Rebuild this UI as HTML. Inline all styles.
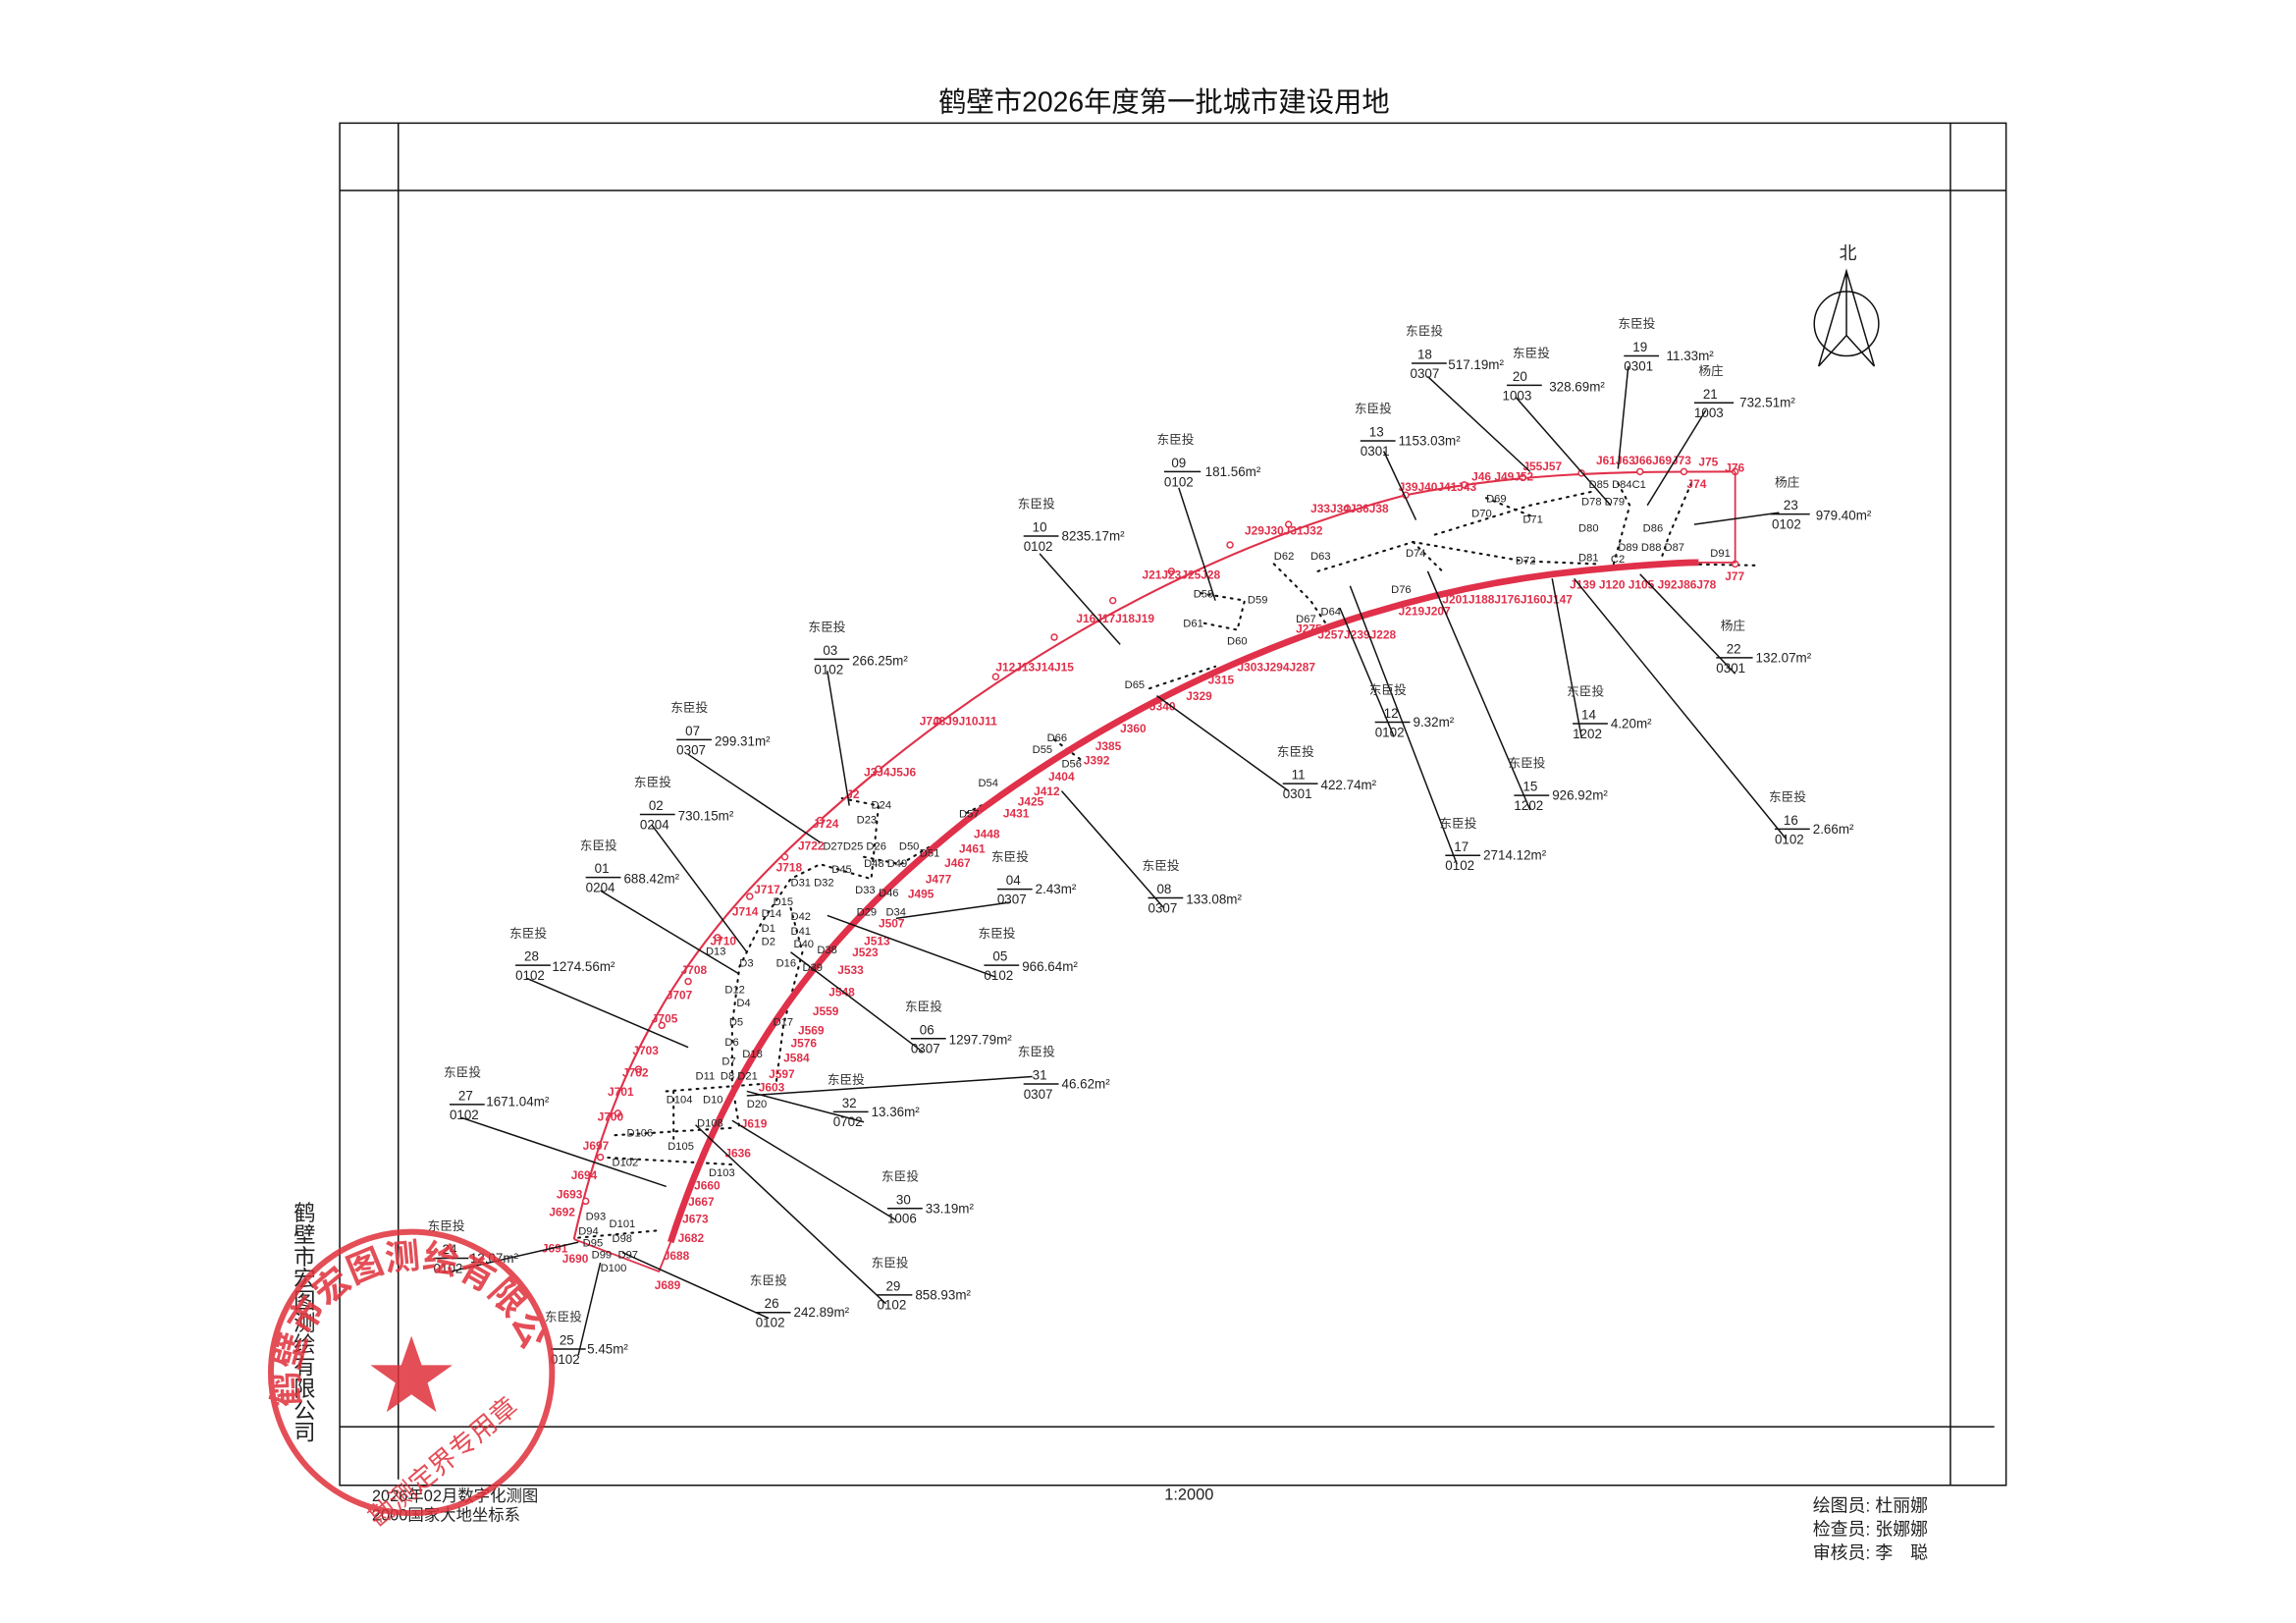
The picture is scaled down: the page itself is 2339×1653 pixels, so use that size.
<!DOCTYPE html>
<html><head><meta charset="utf-8"><style>
html,body{margin:0;padding:0;background:#fff;}
svg{display:block;}
text{font-family:"Liberation Sans","Noto Sans CJK SC",sans-serif;}
.k{fill:#222;font-size:9px;}
.h{fill:#333;font-size:8.5px;}
.r{fill:#e0304a;font-size:8px;font-weight:bold;}
.d{fill:#222;font-size:7.5px;}
.ln{stroke:#111;stroke-width:1;fill:none;}
.dot{stroke:#111;stroke-width:1.4;stroke-dasharray:1.2 4;fill:none;stroke-linecap:round;}
</style></head><body>
<svg width="2339" height="1653" viewBox="0 0 1568 1108" preserveAspectRatio="none" xmlns="http://www.w3.org/2000/svg">
<rect width="1568" height="1108" fill="#fff"/>
<text x="795" y="76" text-anchor="middle" style="font-size:19px;fill:#111">鹤壁市2026年度第一批城市建设用地</text>
<path d="M232,84 H1370 V1014 H232 Z" class="ln" stroke-width="1.3"/>
<path d="M272,84 V1010 M232,130 H1370 M1332,84 V1014 M232,974 H1362" class="ln"/>
<text x="1262" y="177" text-anchor="middle" style="font-size:12px;fill:#222">北</text>
<circle cx="1261" cy="221" r="22" class="ln" stroke-width="1.5"/>
<path d="M1261,185 V229 M1261,185 L1242,250 L1261,229 L1280,250 Z" class="ln" stroke-width="1.3"/>
<path class="dot" d="M1105,330 L1113,345 L1102,385 M1155,330 L1140,365 L1135,380 M980,365 L1045,345 L1090,335 M900,390 L965,370 L1040,383 L1090,385 M965,370 L985,390 M1145,385 L1200,386 M1015,340 L1045,352"/>
<path class="dot" d="M870,385 L895,410 L905,425 M820,405 L850,410 L845,430 L820,425 M785,470 L830,455 M720,505 L740,520 M660,555 L680,545"/>
<path class="dot" d="M575,545 L600,550 L595,600 L560,590 L540,600 L520,630 L505,660 L500,700 L500,740 L505,770 M540,620 L548,650 L535,700 L530,740 M590,585 L615,590 L640,575 M420,775 L500,770 M460,745 L460,780 M455,745 L520,740 M410,790 L500,795 M395,845 L450,840"/>
<path d="M392,846 C420,720 470,640 560,560 C660,470 800,380 960,338 C1040,322 1110,322 1185,322" fill="none" stroke="#e0304a" stroke-width="1.4"/>
<g fill="#fff" stroke="#e0304a" stroke-width="1">
<circle cx="400" cy="820" r="2"/><circle cx="410" cy="790" r="2"/><circle cx="422" cy="760" r="2"/><circle cx="436" cy="730" r="2"/><circle cx="452" cy="700" r="2"/><circle cx="470" cy="670" r="2"/><circle cx="490" cy="640" r="2"/><circle cx="512" cy="612" r="2"/><circle cx="536" cy="585" r="2"/><circle cx="560" cy="560" r="2"/><circle cx="600" cy="525" r="2"/><circle cx="640" cy="492" r="2"/><circle cx="680" cy="462" r="2"/><circle cx="720" cy="435" r="2"/><circle cx="760" cy="410" r="2"/><circle cx="800" cy="390" r="2"/><circle cx="840" cy="372" r="2"/><circle cx="880" cy="358" r="2"/><circle cx="920" cy="347" r="2"/><circle cx="960" cy="338" r="2"/><circle cx="1000" cy="331" r="2"/><circle cx="1040" cy="326" r="2"/><circle cx="1080" cy="323" r="2"/><circle cx="1120" cy="322" r="2"/><circle cx="1150" cy="322" r="2"/><circle cx="1185" cy="322" r="2"/><circle cx="1185" cy="385" r="2"/>
</g>
<path d="M458,848 C500,720 560,640 660,560 C780,470 920,410 1060,392 C1110,386 1150,384 1160,384" fill="none" stroke="#e0304a" stroke-width="4.5"/>
<path d="M1160,384 H1185 V322 M392,846 L450,868 L458,848" fill="none" stroke="#e0304a" stroke-width="1.2"/>
<g class="r">
<text x="1178" y="322">J76</text><text x="1160" y="318">J75</text><text x="1115" y="317">J66J69J73</text><text x="1090" y="317">J61J63</text><text x="1152" y="333">J74</text><text x="1178" y="396">J77</text>
<text x="1040" y="321">J55J57</text><text x="1005" y="328">J46 J49J52</text><text x="955" y="335">J39J40J41J43</text><text x="895" y="350">J33J34J36J38</text><text x="850" y="365">J29J30J31J32</text><text x="780" y="395">J21J23J25J28</text><text x="735" y="425">J16J17J18J19</text><text x="680" y="458">J12J13J14J15</text><text x="628" y="495">J7J8J9J10J11</text><text x="590" y="530">J3J4J5J6</text><text x="578" y="545">J2</text>
<text x="555" y="565">J724</text><text x="545" y="580">J722</text><text x="530" y="595">J718</text><text x="515" y="610">J717</text><text x="500" y="625">J714</text><text x="485" y="645">J710</text><text x="465" y="665">J708</text><text x="455" y="682">J707</text><text x="445" y="698">J705</text><text x="432" y="720">J703</text><text x="425" y="735">J702</text><text x="415" y="748">J701</text><text x="408" y="765">J700</text><text x="398" y="785">J697</text><text x="390" y="805">J694</text><text x="380" y="818">J693</text><text x="375" y="830">J692</text><text x="370" y="855">J691</text><text x="384" y="862">J690</text><text x="447" y="880">J689</text><text x="453" y="860">J688</text><text x="463" y="848">J682</text><text x="466" y="835">J673</text><text x="470" y="823">J667</text><text x="474" y="812">J660</text><text x="495" y="790">J636</text><text x="506" y="770">J619</text><text x="518" y="745">J603</text><text x="525" y="736">J597</text><text x="535" y="725">J584</text><text x="540" y="715">J576</text><text x="545" y="706">J569</text><text x="555" y="693">J559</text><text x="566" y="680">J548</text><text x="572" y="665">J533</text><text x="582" y="653">J523</text><text x="590" y="645">J513</text><text x="600" y="633">J507</text><text x="620" y="613">J495</text><text x="632" y="603">J477</text><text x="645" y="592">J467</text><text x="655" y="582">J461</text><text x="665" y="572">J448</text><text x="685" y="558">J431</text><text x="695" y="550">J425</text><text x="706" y="543">J412</text><text x="716" y="533">J404</text><text x="740" y="522">J392</text><text x="748" y="512">J385</text><text x="765" y="500">J360</text><text x="785" y="485">J340</text><text x="810" y="478">J329</text><text x="825" y="467">J315</text><text x="845" y="458">J303J294J287</text><text x="885" y="432">J275</text><text x="900" y="436">J257J239J228</text><text x="955" y="420">J219J207</text><text x="985" y="412">J201J188J176J160J147</text><text x="1072" y="402">J139 J120 J105 J92J86J78</text>
</g>
<g class="d">
<text x="1085" y="333">D85 D84C1</text><text x="1080" y="345">D78 D79</text><text x="1015" y="343">D69</text><text x="1005" y="353">D70</text><text x="1040" y="357">D71</text><text x="1078" y="363">D80</text><text x="1122" y="363">D86</text><text x="1105" y="376">D89 D88 D87</text><text x="1168" y="380">D91</text><text x="1078" y="383">D81</text><text x="1100" y="384">C2</text><text x="1035" y="385">D72</text><text x="960" y="380">D74</text><text x="950" y="405">D76</text><text x="870" y="382">D62</text><text x="895" y="382">D63</text><text x="815" y="408">D58</text><text x="852" y="412">D59</text><text x="808" y="428">D61</text><text x="838" y="440">D60</text><text x="902" y="420">D64</text><text x="885" y="425">D67</text><text x="768" y="470">D65</text><text x="715" y="506">D66</text><text x="705" y="514">D55</text><text x="725" y="524">D56</text><text x="668" y="537">D54</text><text x="655" y="558">D57</text><text x="595" y="552">D24</text><text x="585" y="562">D23</text><text x="562" y="580">D27D25 D26</text><text x="614" y="580">D50</text><text x="628" y="585">D51</text><text x="590" y="592">D48 D49</text><text x="568" y="596">D45</text><text x="540" y="605">D31 D32</text><text x="584" y="610">D33</text><text x="600" y="612">D46</text><text x="585" y="625">D29</text><text x="605" y="625">D34</text><text x="528" y="618">D15</text><text x="520" y="626">D14</text><text x="540" y="628">D42</text><text x="520" y="636">D1</text><text x="540" y="638">D41</text><text x="520" y="645">D2</text><text x="542" y="647">D40</text><text x="558" y="651">D38</text><text x="482" y="652">D13</text><text x="505" y="660">D3</text><text x="530" y="660">D16</text><text x="548" y="663">D39</text><text x="495" y="678">D12</text><text x="503" y="687">D4</text><text x="498" y="700">D5</text><text x="528" y="700">D17</text><text x="495" y="714">D6</text><text x="507" y="722">D18</text><text x="493" y="727">D7</text><text x="475" y="737">D11</text><text x="492" y="737">D8 D21</text><text x="455" y="753">D104</text><text x="480" y="753">D10</text><text x="510" y="756">D20</text><text x="476" y="769">D108</text><text x="428" y="776">D106</text><text x="456" y="785">D105</text><text x="418" y="796">D102</text><text x="484" y="803">D103</text><text x="400" y="833">D93</text><text x="416" y="838">D101</text><text x="395" y="843">D94</text><text x="398" y="851">D95</text><text x="418" y="848">D98</text><text x="404" y="859">D99</text><text x="422" y="859">D97</text><text x="410" y="868">D100</text>
</g>
<g class="ln">
<path d="M975,257 L1045,322 M1035,271 L1100,345 M1112,250 L1105,320 M1165,280 L1125,345 M1215,350 L1157,358 M945,308 L967,355 M805,333 L830,410 M710,378 L765,440 M565,458 L580,550 M470,515 L560,575 M445,563 L510,650 M410,608 L505,665 M360,668 L470,715 M315,763 L455,810 M308,868 L395,848 M395,925 L410,862 M525,900 L425,855 M605,890 L475,768 M612,833 L500,765 M590,766 L510,745 M705,735 L510,748 M630,718 L540,650 M680,667 L565,625 M690,616 L612,627 M795,620 L725,540 M880,540 L790,475 M952,503 L915,415 M995,590 L922,400 M1045,553 L975,390 M1080,503 L1060,395 M1220,573 L1075,395 M1185,460 L1120,392"/>
</g>
<g class="k">
<g transform="translate(960,229)"><text class="h" x="0" y="0">东臣投</text><text x="8" y="16">18</text><path d="M4,19 H28" class="ln"/><text x="3" y="29">0307</text><text x="29" y="23">517.19m²</text></g>
<g transform="translate(1025,244)"><text class="h" x="8" y="0">东臣投</text><text x="8" y="16">20</text><path d="M4,19 H28" class="ln"/><text x="1" y="29">1003</text><text x="33" y="23">328.69m²</text></g>
<g transform="translate(1105,224)"><text class="h" x="0" y="0">东臣投</text><text x="10" y="16">19</text><path d="M4,19 H28" class="ln"/><text x="4" y="29">0301</text><text x="33" y="22">11.33m²</text></g>
<g transform="translate(1160,256)"><text class="h" x="0" y="0">杨庄</text><text x="3" y="16">21</text><path d="M-3,19 H24" class="ln"/><text x="-3" y="29">1003</text><text x="28" y="22">732.51m²</text></g>
<g transform="translate(1212,332)"><text class="h" x="0" y="0">杨庄</text><text x="6" y="16">23</text><path d="M-3,19 H24" class="ln"/><text x="-2" y="29">0102</text><text x="28" y="23">979.40m²</text></g>
<g transform="translate(925,282)"><text class="h" x="0" y="0">东臣投</text><text x="10" y="16">13</text><path d="M4,19 H28" class="ln"/><text x="4" y="29">0301</text><text x="30" y="22">1153.03m²</text></g>
<g transform="translate(790,303)"><text class="h" x="0" y="0">东臣投</text><text x="10" y="16">09</text><path d="M5,19 H30" class="ln"/><text x="5" y="29">0102</text><text x="33" y="22">181.56m²</text></g>
<g transform="translate(695,347)"><text class="h" x="0" y="0">东臣投</text><text x="10" y="16">10</text><path d="M4,19 H28" class="ln"/><text x="4" y="29">0102</text><text x="30" y="22">8235.17m²</text></g>
<g transform="translate(552,431)"><text class="h" x="0" y="0">东臣投</text><text x="10" y="16">03</text><path d="M4,19 H28" class="ln"/><text x="4" y="29">0102</text><text x="30" y="23">266.25m²</text></g>
<g transform="translate(458,486)"><text class="h" x="0" y="0">东臣投</text><text x="10" y="16">07</text><path d="M4,19 H28" class="ln"/><text x="4" y="29">0307</text><text x="30" y="23">299.31m²</text></g>
<g transform="translate(433,537)"><text class="h" x="0" y="0">东臣投</text><text x="10" y="16">02</text><path d="M4,19 H28" class="ln"/><text x="4" y="29">0204</text><text x="30" y="23">730.15m²</text></g>
<g transform="translate(396,580)"><text class="h" x="0" y="0">东臣投</text><text x="10" y="16">01</text><path d="M4,19 H28" class="ln"/><text x="4" y="29">0204</text><text x="30" y="23">688.42m²</text></g>
<g transform="translate(348,640)"><text class="h" x="0" y="0">东臣投</text><text x="10" y="16">28</text><path d="M4,19 H28" class="ln"/><text x="4" y="29">0102</text><text x="29" y="23">1274.56m²</text></g>
<g transform="translate(303,735)"><text class="h" x="0" y="0">东臣投</text><text x="10" y="16">27</text><path d="M4,19 H28" class="ln"/><text x="4" y="29">0102</text><text x="29" y="20">1671.04m²</text></g>
<g transform="translate(292,840)"><text class="h" x="0" y="0">东臣投</text><text x="10" y="16">24</text><path d="M4,19 H28" class="ln"/><text x="4" y="29">0102</text><text x="29" y="22">12.07m²</text></g>
<g transform="translate(372,902)"><text class="h" x="0" y="0">东臣投</text><text x="10" y="16">25</text><path d="M4,19 H28" class="ln"/><text x="4" y="29">0102</text><text x="29" y="22">5.45m²</text></g>
<g transform="translate(512,877)"><text class="h" x="0" y="0">东臣投</text><text x="10" y="16">26</text><path d="M4,19 H28" class="ln"/><text x="4" y="29">0102</text><text x="30" y="22">242.89m²</text></g>
<g transform="translate(595,865)"><text class="h" x="0" y="0">东臣投</text><text x="10" y="16">29</text><path d="M4,19 H28" class="ln"/><text x="4" y="29">0102</text><text x="30" y="22">858.93m²</text></g>
<g transform="translate(602,806)"><text class="h" x="0" y="0">东臣投</text><text x="10" y="16">30</text><path d="M4,19 H28" class="ln"/><text x="4" y="29">1006</text><text x="30" y="22">33.19m²</text></g>
<g transform="translate(565,740)"><text class="h" x="0" y="0">东臣投</text><text x="10" y="16">32</text><path d="M4,19 H28" class="ln"/><text x="4" y="29">0702</text><text x="30" y="22">13.36m²</text></g>
<g transform="translate(695,721)"><text class="h" x="0" y="0">东臣投</text><text x="10" y="16">31</text><path d="M4,19 H28" class="ln"/><text x="4" y="29">0307</text><text x="30" y="22">46.62m²</text></g>
<g transform="translate(618,690)"><text class="h" x="0" y="0">东臣投</text><text x="10" y="16">06</text><path d="M4,19 H28" class="ln"/><text x="4" y="29">0307</text><text x="30" y="23">1297.79m²</text></g>
<g transform="translate(668,640)"><text class="h" x="0" y="0">东臣投</text><text x="10" y="16">05</text><path d="M4,19 H28" class="ln"/><text x="4" y="29">0102</text><text x="30" y="23">966.64m²</text></g>
<g transform="translate(677,588)"><text class="h" x="0" y="0">东臣投</text><text x="10" y="16">04</text><path d="M4,19 H28" class="ln"/><text x="4" y="29">0307</text><text x="30" y="22">2.43m²</text></g>
<g transform="translate(780,594)"><text class="h" x="0" y="0">东臣投</text><text x="10" y="16">08</text><path d="M4,19 H28" class="ln"/><text x="4" y="29">0307</text><text x="30" y="23">133.08m²</text></g>
<g transform="translate(872,516)"><text class="h" x="0" y="0">东臣投</text><text x="10" y="16">11</text><path d="M4,19 H28" class="ln"/><text x="4" y="29">0301</text><text x="30" y="23">422.74m²</text></g>
<g transform="translate(935,474)"><text class="h" x="0" y="0">东臣投</text><text x="10" y="16">12</text><path d="M4,19 H28" class="ln"/><text x="4" y="29">0102</text><text x="30" y="22">9.32m²</text></g>
<g transform="translate(983,565)"><text class="h" x="0" y="0">东臣投</text><text x="10" y="16">17</text><path d="M4,19 H28" class="ln"/><text x="4" y="29">0102</text><text x="30" y="22">2714.12m²</text></g>
<g transform="translate(1030,524)"><text class="h" x="0" y="0">东臣投</text><text x="10" y="16">15</text><path d="M4,19 H28" class="ln"/><text x="4" y="29">1202</text><text x="30" y="22">926.92m²</text></g>
<g transform="translate(1070,475)"><text class="h" x="0" y="0">东臣投</text><text x="10" y="16">14</text><path d="M4,19 H28" class="ln"/><text x="4" y="29">1202</text><text x="30" y="22">4.20m²</text></g>
<g transform="translate(1208,547)"><text class="h" x="0" y="0">东臣投</text><text x="10" y="16">16</text><path d="M4,19 H28" class="ln"/><text x="4" y="29">0102</text><text x="30" y="22">2.66m²</text></g>
<g transform="translate(1175,430)"><text class="h" x="0" y="0">杨庄</text><text x="4" y="16">22</text><path d="M-3,19 H22" class="ln"/><text x="-3" y="29">0301</text><text x="24" y="22">132.07m²</text></g>
</g>
<text x="812" y="1024" text-anchor="middle" style="font-size:11px;fill:#222">1:2000</text>
<text x="254" y="1025" style="font-size:11px;fill:#222">2026年02月数字化测图</text>
<text x="254" y="1038" style="font-size:11px;fill:#222">2000国家大地坐标系</text>
<text x="1238" y="1032" style="font-size:12px;fill:#222">绘图员: 杜丽娜</text>
<text x="1238" y="1048" style="font-size:12px;fill:#222">检查员: 张娜娜</text>
<text x="1238" y="1064" style="font-size:12px;fill:#222">审核员: 李　聪</text>
<text x="207" y="820" style="font-size:15px;fill:#222;writing-mode:tb">鹤壁市宏图测绘有限公司</text>
<g opacity="0.85">
<circle cx="281" cy="937" r="96" fill="none" stroke="#e0303a" stroke-width="4"/>
<polygon points="281,912 288,932 309,932 292,944 298,964 281,952 264,964 270,944 253,932 274,932" fill="#e0303a"/>
<path id="arc" d="M205,960 A78,78 0 1 1 360,930" fill="none"/>
<text style="font-size:24px;fill:#e0303a;font-weight:bold"><textPath href="#arc">鹤壁市宏图测绘有限公司</textPath></text>
<text x="300" y="1005" text-anchor="middle" transform="rotate(-40 300 995)" style="font-size:18px;fill:#e0303a">勘测定界专用章</text>
</g>
</svg>
</body></html>
